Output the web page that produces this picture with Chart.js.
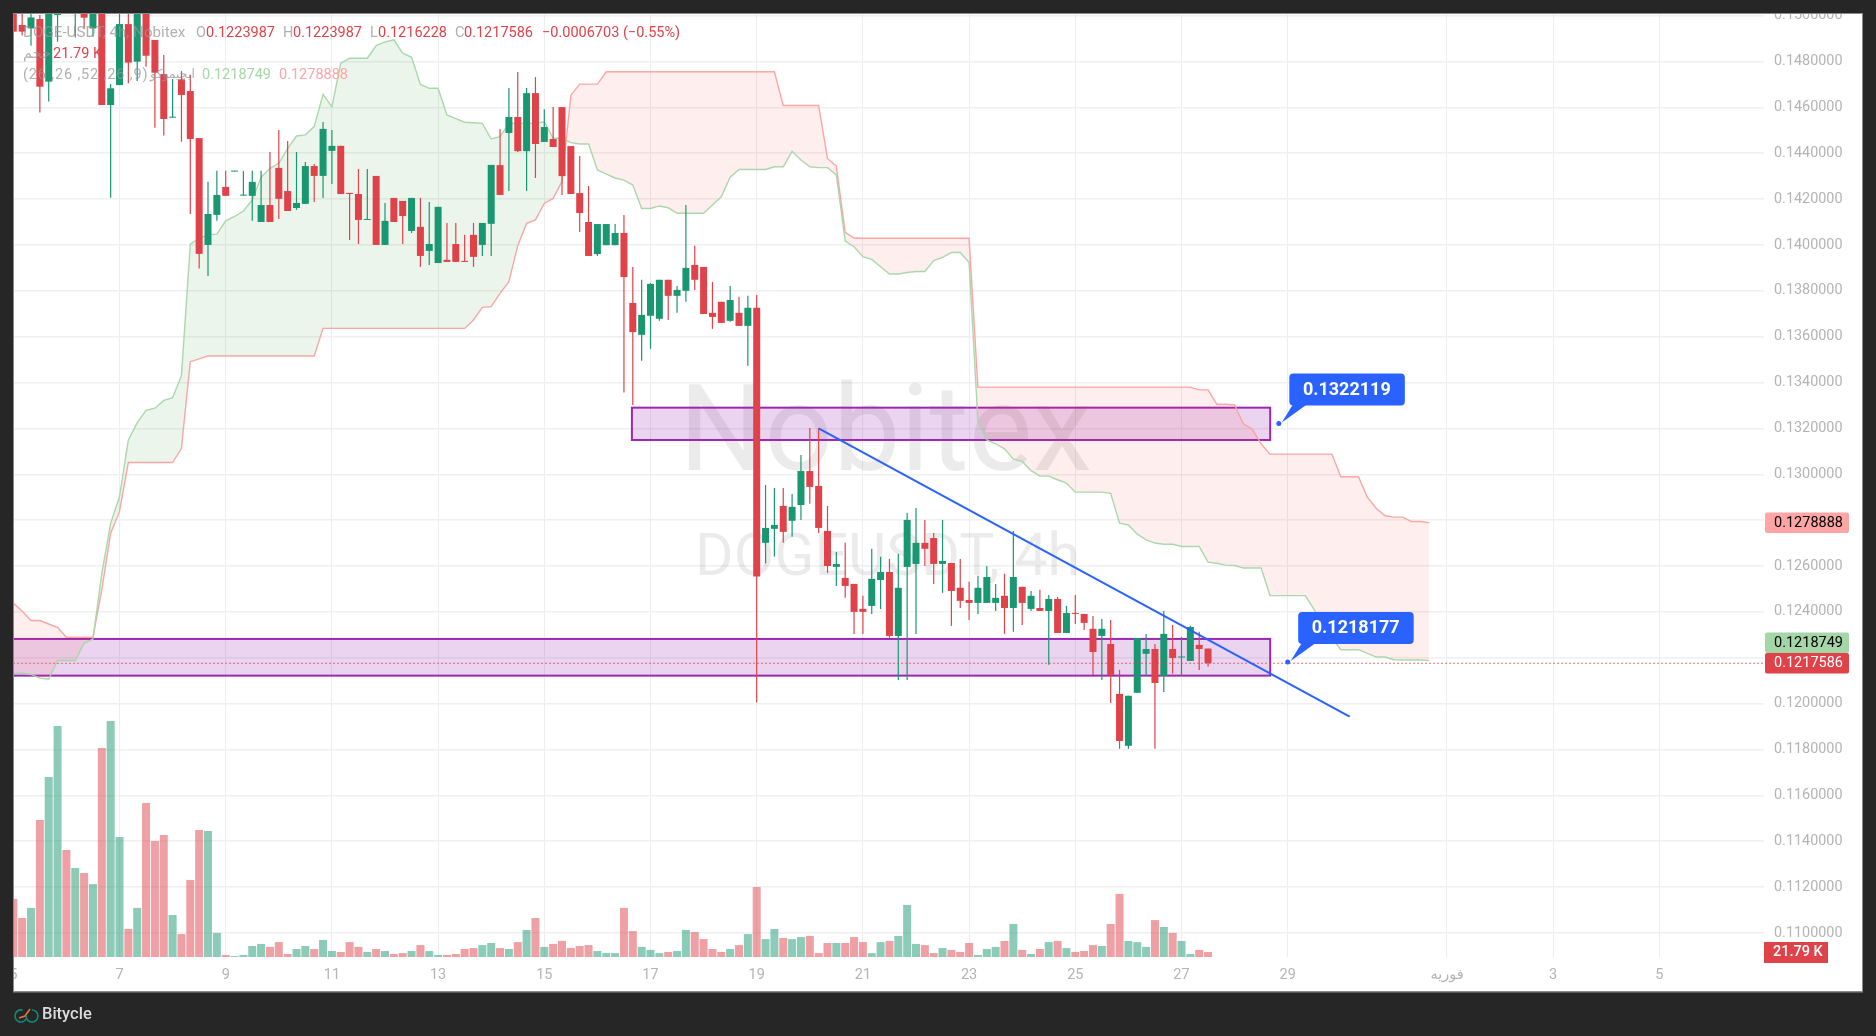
<!DOCTYPE html>
<html>
<head>
<meta charset="utf-8">
<title>DOGE-USDT 4h</title>
<script src="https://cdn.jsdelivr.net/npm/chart.js@4/dist/chart.umd.min.js"></script>
<style>
  html,body{margin:0;padding:0;background:#262626;overflow:hidden}
  canvas{display:block}
</style>
</head>
<body>
<canvas id="chart" width="1876" height="1036"></canvas>
<script>
// candles, one every 4h, the first at day 5 of the month
const opens = [.1518,.14959,.14944,.14985,.14712,.15003,.1530,.1509,.1515,.14944,
  .1522,.14610,.14697,.14963,.14799,.1522,.14894,.14745,.14555,.14722,
  .14671,.14466,.14000,.14131,.14253,.14320,.14215,.14214,.14100,.14174,
  .14336,.14235,.14161,.14179,.14344,.14301,.14410,.14432,.14227,.14222,
  .14109,.14301,.14000,.14205,.14192,.14061,.14079,.13974,.13921,.13935,
  .14004,.13929,.14044,.14000,.14092,.14348,.14488,.14558,.14409,.14662,
  .14449,.14462,.14601,.14431,.14226,.14100,.13960,.13999,.13999,.14052,
  .13747,.13608,.13691,.13678,.13848,.13778,.13800,.13913,.13904,.13704,
  .13752,.13669,.13704,.13647,.13726,.12701,.12762,.12862,.12797,.12866,
  .13014,.12949,.12753,.12596,.12548,.12522,.12413,.12426,.12539,.12574,
  .12295,.12596,.12609,.12701,.12722,.12609,.12613,.12505,.12452,.12439,
  .12439,.12439,.12470,.12417,.12509,.12413,.12417,.12404,.12456,.12308,
  .12395,.12391,.12326,.12295,.12260,.12042,.11816,.12047,.12217,.12238,
  .12121,.12238,.12201,.12186,.12256,.1223987];
const closes = [.14930,.14930,.14992,.14690,.1515,.1522,.1520,.1520,.14991,.1512,
  .14610,.14683,.14963,.14795,.1515,.14825,.14751,.14549,.14559,.14654,
  .14462,.13961,.14135,.14218,.14214,.14323,.14218,.14275,.14174,.14100,
  .14201,.14148,.14183,.14344,.14301,.14506,.14432,.14222,.14222,.14109,
  .14113,.14000,.14105,.14100,.14126,.14205,.13952,.14004,.14166,.13926,
  .13926,.13926,.13948,.14096,.14349,.14218,.14558,.14409,.14662,.14440,
  .14514,.14427,.14300,.14222,.14139,.13952,.14091,.14091,.14052,.13860,
  .13620,.13695,.13830,.13848,.13778,.13804,.13900,.13848,.13699,.13686,
  .13660,.13760,.13647,.13726,.12554,.12766,.12779,.12749,.12858,.13014,
  .12945,.12766,.12600,.12609,.12513,.12400,.12400,.12544,.12574,.12295,
  .12505,.12801,.12701,.12675,.12609,.12622,.12491,.12448,.12439,.12505,
  .12552,.12461,.12417,.12552,.12439,.12470,.12404,.12456,.12308,.12395,
  .12391,.12352,.12225,.12326,.12125,.11837,.12034,.12286,.12238,.12090,
  .12304,.12199,.12204,.12334,.12238,.1217586];
const highs = [.1525,.1515,.1512,.15003,.1525,.1530,.1540,.1530,.1522,.1520,
  .1530,.14702,.1512,.1510,.1520,.1530,.14894,.14828,.14724,.14758,
  .14741,.14466,.14275,.14323,.14323,.14323,.14323,.14323,.14323,.14405,
  .14501,.14453,.14405,.14362,.14353,.14536,.14501,.14432,.14227,.14331,
  .14331,.14301,.14183,.14205,.14192,.14205,.14205,.14187,.14166,.14096,
  .14096,.14044,.14096,.14096,.14349,.14505,.14684,.14754,.14684,.14732,
  .14592,.14601,.14601,.14431,.14388,.14257,.14091,.14091,.14091,.14130,
  .13904,.13848,.13834,.13848,.13848,.13821,.14174,.13996,.13904,.13839,
  .13752,.13821,.13774,.13778,.13782,.12953,.12940,.12940,.12914,.13084,
  .13202,.13202,.12862,.12661,.12701,.12522,.12470,.12675,.12640,.12631,
  .12653,.12831,.12853,.12801,.12744,.12801,.12613,.12631,.12531,.12557,
  .12600,.12522,.12566,.12753,.12509,.12491,.12496,.12474,.12465,.12426,
  .12474,.12391,.12382,.12369,.12365,.12147,.12034,.12286,.12304,.12260,
  .12404,.12343,.12291,.12339,.12313,.1223987];
const lows = [.14872,.14913,.14869,.14577,.14625,.14886,.1508,.14905,.14944,.14908,
  .14610,.14206,.14697,.14705,.14715,.14777,.14511,.14477,.14555,.14450,
  .14135,.13897,.13865,.14105,.14214,.14320,.14215,.14105,.14100,.14100,
  .14113,.14148,.14153,.14179,.14187,.14205,.14266,.14222,.14022,.14004,
  .14109,.14000,.14000,.14100,.14004,.14052,.13904,.13913,.13921,.13926,
  .13926,.13926,.13904,.13952,.13952,.14218,.14235,.14405,.14235,.14292,
  .14449,.14427,.14218,.14222,.14056,.13952,.13952,.13999,.13999,.13356,
  .13302,.13495,.13547,.13669,.13673,.13704,.13752,.13804,.13699,.13634,
  .13660,.13665,.13647,.13473,.12005,.12611,.12641,.12701,.12727,.12801,
  .12871,.12744,.12570,.12513,.12461,.12304,.12304,.12391,.12413,.12287,
  .12103,.12103,.12304,.12600,.12522,.12483,.12339,.12417,.12365,.12391,
  .12439,.12404,.12304,.12313,.12343,.12404,.12404,.12169,.12308,.12308,
  .12347,.12321,.12125,.12103,.12003,.11803,.11803,.12047,.12121,.11803,
  .12051,.12130,.12121,.12186,.12147,.1216228];
// volume in thousands
const volumes = [253,170,214,597,785,1007,466,388,366,318,
  911,1029,523,122,214,671,506,532,183,100,
  336,554,549,105,9,4,9,48,57,44,
  65,13,35,48,35,74,26,22,65,44,
  22,35,26,13,17,26,52,26,9,9,
  13,35,39,52,61,39,35,65,118,170,
  44,57,70,39,48,52,26,17,17,214,
  113,44,31,17,22,26,118,109,78,35,
  22,35,52,100,305,78,122,83,78,87,
  92,17,61,61,61,87,65,17,65,70,
  92,227,57,52,17,39,31,22,61,9,
  35,44,70,144,31,13,35,65,70,39,
  22,26,52,48,144,275,70,65,44,161,
  131,105,70,13,31,21.79];
// cloud edges, these run 26 candles past the last close
const spanA = [.12132,.12132,.12127,.12111,.12106,.12188,.12188,.12188,.12263,.12281,
  .12568,.12786,.12903,.13150,.13225,.13279,.13288,.13322,.13334,.13430,
  .14003,.14029,.14044,.14047,.14105,.14124,.14148,.14196,.14295,.14334,
  .14356,.14421,.14475,.14480,.14516,.14657,.14602,.14792,.14814,.14814,
  .14814,.14869,.14885,.14894,.14836,.14818,.14700,.14683,.14683,.14567,
  .14551,.14535,.14533,.14530,.14462,.14472,.14530,.14530,.14530,.14530,
  .14537,.14465,.14465,.14446,.14440,.14440,.14327,.14309,.14292,.14283,
  .14261,.14159,.14159,.14170,.14162,.14138,.14138,.14138,.14138,.14174,
  .14210,.14295,.14329,.14329,.14329,.14329,.14341,.14341,.14408,.14370,
  .14341,.14337,.14337,.14305,.14017,.13992,.13949,.13937,.13905,.13873,
  .13873,.13880,.13884,.13884,.13932,.13946,.13967,.13967,.13923,.13230,
  .13150,.13133,.13111,.13066,.13056,.13016,.12992,.12992,.12976,.12961,
  .12922,.12922,.12922,.12922,.12917,.12787,.12779,.12739,.12714,.12700,
  .12695,.12695,.12685,.12685,.12685,.12617,.12612,.12604,.12602,.12591,
  .12591,.12591,.12471,.12471,.12471,.12471,.12471,.12409,.12344,.12286,
  .12235,.12235,.12235,.12219,.12203,.12203,.12191,.12190,.12190,.12190,.1218749];
const spanB = [.12438,.12404,.12362,.12362,.12347,.12333,.12289,.12289,.12289,.12289,
  .12496,.12743,.12837,.13051,.13051,.13051,.13051,.13051,.13051,.13113,
  .13491,.13503,.13516,.13516,.13516,.13516,.13516,.13516,.13516,.13516,
  .13516,.13516,.13516,.13516,.13516,.13636,.13636,.13636,.13636,.13636,
  .13636,.13636,.13636,.13636,.13636,.13636,.13636,.13636,.13636,.13636,
  .13636,.13636,.13673,.13728,.13731,.13789,.13840,.13997,.14094,.14109,
  .14181,.14203,.14276,.14653,.14701,.14701,.14701,.14755,.14755,.14755,
  .14755,.14755,.14755,.14755,.14755,.14755,.14755,.14755,.14755,.14755,
  .14755,.14755,.14755,.14755,.14755,.14755,.14755,.14608,.14608,.14608,
  .14608,.14608,.14377,.14344,.14055,.14030,.14029,.14029,.14029,.14029,
  .14029,.14029,.14029,.14029,.14029,.14029,.14029,.14029,.14029,.13380,
  .13380,.13380,.13380,.13380,.13380,.13380,.13380,.13380,.13380,.13380,
  .13380,.13380,.13380,.13380,.13380,.13380,.13380,.13380,.13380,.13380,
  .13380,.13380,.13380,.13380,.13368,.13368,.13305,.13305,.13302,.13220,
  .13197,.13133,.13088,.13088,.13088,.13088,.13088,.13088,.13088,.13088,
  .12989,.12989,.12989,.12900,.12852,.12819,.12813,.12813,.12794,.12794,.1278888];
// axis ticks
const xTickDays = [5,7,9,11,13,15,17,19,21,23,25,27,29,32,34,36];
const xTickLabels = ['5','7','9','11','13','15','17','19','21','23','25','27','29','فوریه','3','5'];
const yTicks = [.110,.112,.114,.116,.118,.120,.122,.124,.126,.128,.130,.132,.134,.136,.138,.140,.142,.144,.146,.148,.150];
// drawings on the chart
const trendDays = [20.1667,30.1667];
const trendPrices = [.132,.119431];
const zoneDays = [[16.65,28.67],[3,28.67]];
const zonePrices = [[.132904,.131495],[.122819,.121219]];
const calloutDays = [28.833,29];
const calloutPrices = [.1322119,.1218177];
const lastClose = .1217586;
const lastSpanA = .1218749;
const lastSpanB = .1278888;

const RED = '#e0424a', GREEN = '#199771';
const FONT = 'Roboto, "DejaVu Sans", sans-serif';
const dayOf = i => 5 + i/6;
const isUp = i => closes[i] >= opens[i];
const pts = arr => arr.map((v,i)=>({x:dayOf(i), y:v}));

// frame, watermark, zones, tags and the text on top of the plot
const overlay = {
  id:'overlay',
  beforeDraw(c){
    const g = c.ctx;
    g.save();
    g.fillStyle = '#262626'; g.fillRect(0,0,c.width,c.height);
    g.fillStyle = '#fff'; g.fillRect(13,13,1850,979);
    g.restore();
  },
  beforeDatasetsDraw(c){
    const g = c.ctx, X = c.scales.x, Y = c.scales.y, a = c.chartArea;
    g.save();
    g.fillStyle = 'rgba(0,0,0,0.08)';
    g.textAlign = 'left'; g.textBaseline = 'alphabetic';
    g.font = '120px '+FONT; g.fillText('Nobitex',679,470);
    g.font = '59px '+FONT; g.fillText('DOGEUSDT, 4h',695,575);
    g.beginPath(); g.rect(a.left,a.top,a.width,a.height); g.clip();
    zoneDays.forEach((d,k)=>{
      const x0 = X.getPixelForValue(d[0]), x1 = X.getPixelForValue(d[1]);
      const y0 = Y.getPixelForValue(zonePrices[k][0]), y1 = Y.getPixelForValue(zonePrices[k][1]);
      g.fillStyle = 'rgba(156,39,176,0.2)'; g.fillRect(x0,y0,x1-x0,y1-y0);
      g.strokeStyle = '#9c27b0'; g.lineWidth = 2; g.strokeRect(x0,y0,x1-x0,y1-y0);
    });
    g.restore();
  },
  afterDraw(c){
    const g = c.ctx, X = c.scales.x, Y = c.scales.y;
    g.save();
    // dark edges cut off whatever hangs over the panel
    g.fillStyle = '#262626';
    g.fillRect(0,0,c.width,13); g.fillRect(0,0,13,c.height);
    g.fillStyle = '#8a8a8a';
    g.fillRect(13,13,1850,1); g.fillRect(13,13,1,979); g.fillRect(13,991,1850,1.5); g.fillRect(1862,13,1,979);

    // top left legend
    g.textBaseline = 'middle'; g.textAlign = 'left';
    const txt = (s,x,y,col)=>{ g.fillStyle = col; g.fillText(s,x,y); };
    const grey = 'rgba(150,150,150,0.75)';
    g.font = '15.2px '+FONT;
    txt('DOGE-USDT, 4h, Nobitex',23,33,grey);
    g.font = '14.5px '+FONT;
    txt('O',196,33,grey); txt('0.1223987',206,33,RED);
    txt('H',283,33,grey); txt('0.1223987',293,33,RED);
    txt('L',370,33,grey); txt('0.1216228',378,33,RED);
    txt('C',455,33,grey); txt('0.1217586',464,33,RED);
    txt('−0.0006703 (−0.55%)',542,33,RED);
    txt('حجم',23,54,grey); txt('21.79 K',53,54,RED);
    g.letterSpacing = '0.85px';
    txt('(26 ,26 ,52 ,26 ,9)',23,75,grey);
    g.letterSpacing = '0px';
    txt(lastSpanA.toFixed(7),202,75,'#a5d6a7');
    txt(lastSpanB.toFixed(7),279,75,'#ffa5a5');
    g.font = '12.5px '+FONT;
    txt('ایچیموکو',150,75,grey);
    g.font = '14.5px '+FONT;

    // price tags on the axis, the span tag sits on top of the close tag
    const tag = (y,s,bg,fg)=>{
      g.fillStyle = bg; g.beginPath(); g.roundRect(1765,y-10.25,84,20.5,2); g.fill();
      g.fillStyle = fg; g.fillText(s,1774,y+.5);
    };
    const closeY = Y.getPixelForValue(lastClose);
    tag(Y.getPixelForValue(lastSpanB),lastSpanB.toFixed(7),'#ffa5a5','#000');
    tag(closeY-20.5,lastSpanA.toFixed(7),'#a5d6a7','#000');
    tag(closeY,lastClose.toFixed(7),RED,'#fff');
    g.fillStyle = RED; g.fillRect(1764,942,64,21);
    g.fillStyle = '#fff'; g.font = '500 14.5px '+FONT; g.fillText('21.79 K',1773,952.5);

    // callouts
    calloutDays.forEach((d,k)=>{
      const ax = X.getPixelForValue(d), ay = Y.getPixelForValue(calloutPrices[k]);
      g.fillStyle = '#2962ff';
      g.beginPath(); g.roundRect(ax+10.5,ay-50,115.5,32,4); g.fill();
      g.beginPath(); g.moveTo(ax+14,ay-19); g.lineTo(ax+28,ay-19); g.lineTo(ax+3,ay-1); g.closePath(); g.fill();
      g.beginPath(); g.arc(ax,ay,2.5,0,Math.PI*2); g.fill();
      g.fillStyle = '#fff'; g.font = 'bold 18px '+FONT; g.textAlign = 'center';
      g.fillText(calloutPrices[k].toFixed(7),ax+68,ay-33.5);
      g.textAlign = 'left';
    });

    // footer
    g.lineWidth = 1.6;
    g.strokeStyle = '#0f8a78';
    g.beginPath(); g.arc(21,1016,6,0.5,5); g.stroke();
    g.beginPath(); g.arc(32,1016,6,-1.6,3.2); g.stroke();
    g.strokeStyle = '#e0773c';
    g.beginPath(); g.moveTo(19,1018); g.lineTo(25,1016); g.lineTo(30,1009); g.stroke();
    g.fillStyle = '#dcdcdc'; g.font = '500 16.5px '+FONT; g.fillText('Bitycle',42,1015);
    g.restore();
  }
};

new Chart(document.getElementById('chart'),{
  type:'bar',
  plugins:[overlay],
  data:{datasets:[
    {type:'line', data:pts(spanA), order:6, borderColor:'rgba(165,214,167,0.95)', borderWidth:1.4, pointRadius:0, tension:0,
      fill:{target:1, above:'rgba(67,160,71,0.1)', below:'rgba(244,67,54,0.09)'}},
    {type:'line', data:pts(spanB), order:6, borderColor:'rgba(255,165,165,0.95)', borderWidth:1.4, pointRadius:0, tension:0, fill:false},
    {data:volumes.map((v,i)=>({x:dayOf(i),y:v})), yAxisID:'v', order:5, barThickness:8, grouped:false, inflateAmount:0,
      backgroundColor:volumes.map((v,i)=>isUp(i)?'rgba(25,151,113,0.5)':'rgba(224,66,74,0.5)')},
    {data:opens.map((v,i)=>({x:dayOf(i),y:[lows[i],highs[i]]})), order:3, barThickness:1.2, grouped:false, inflateAmount:0,
      backgroundColor:opens.map((v,i)=>isUp(i)?GREEN:RED)},
    {data:opens.map((v,i)=>({x:dayOf(i),y:[v,closes[i]]})), order:2, barThickness:7, grouped:false, inflateAmount:0, minBarLength:1,
      backgroundColor:opens.map((v,i)=>isUp(i)?GREEN:RED)},
    {type:'line', data:[{x:5,y:lastClose},{x:38,y:lastClose}], order:1, borderColor:RED, borderWidth:1, borderDash:[1.5,2.5], pointRadius:0, fill:false},
    {type:'line', data:trendDays.map((d,i)=>({x:d,y:trendPrices[i]})), order:0, borderColor:'#2962ff', borderWidth:2, pointRadius:0, fill:false}
  ]},
  options:{
    responsive:false, animation:false, events:[],
    layout:{padding:{left:14,top:14,right:13,bottom:44}},
    plugins:{legend:{display:false}, tooltip:{enabled:false}},
    scales:{
      x:{type:'linear', min:5.013, max:37.97, offset:false,
        grid:{offset:false, color:'rgba(0,0,0,0.07)', lineWidth:1, drawTicks:false},
        border:{display:false},
        afterBuildTicks:s=>{ s.ticks = xTickDays.map(v=>({value:v})); },
        afterFit:s=>{ s.height = 35; s.paddingLeft = 0; s.paddingRight = 0; },
        ticks:{autoSkip:false, maxRotation:0, padding:10, color:'#b4b4b4', font:{family:FONT,size:14.5},
          callback:(v,i)=>xTickLabels[i]}},
      y:{type:'linear', position:'right', min:.10895, max:.15007,
        grid:{color:'#f0f0f0', lineWidth:1.5, drawTicks:false},
        border:{display:false},
        afterBuildTicks:s=>{ s.ticks = yTicks.map(v=>({value:v})); },
        afterFit:s=>{ s.width = 99; s.paddingTop = 0; s.paddingBottom = 0; },
        ticks:{padding:10, color:'#b4b4b4', font:{family:FONT,size:14.4}, callback:v=>v.toFixed(7)}},
      v:{type:'linear', display:false, min:0, max:4111}
    }
  }
});
</script>
</body>
</html>
